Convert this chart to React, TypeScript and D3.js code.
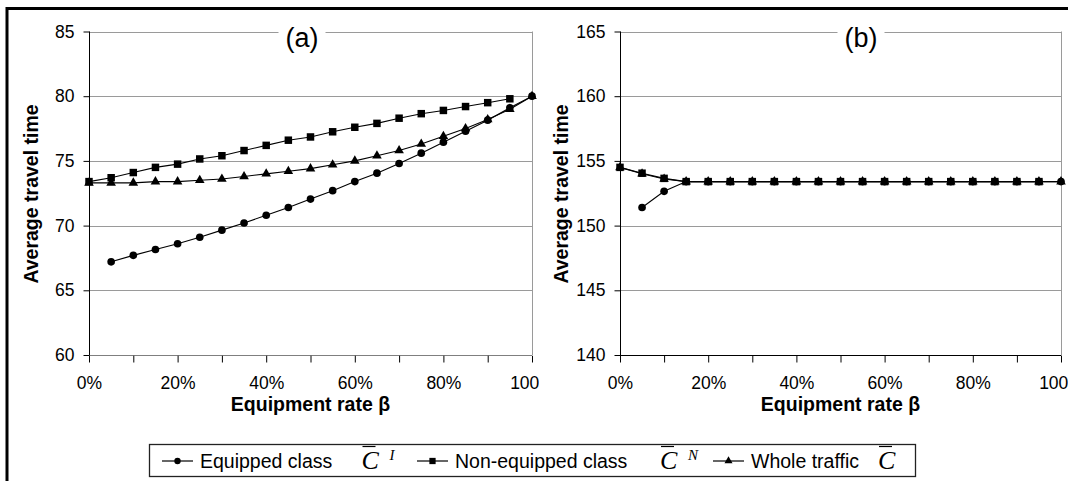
import React, { useEffect, useRef } from "react"
import * as d3 from "d3"

// equipment rate beta (x values, shared by both panels)
const rates = [0, 0.05, 0.1, 0.15, 0.2, 0.25, 0.3, 0.35, 0.4, 0.45, 0.5,
  0.55, 0.6, 0.65, 0.7, 0.75, 0.8, 0.85, 0.9, 0.95, 1]
const xTicks = [0, 0.1, 0.2, 0.3, 0.4, 0.5, 0.6, 0.7, 0.8, 0.9, 1]
const xLabels = ["0%", "", "20%", "", "40%", "", "60%", "", "80%", "", "100%"]

// panel (a)
const equippedA = [null, 67.2, 67.7, 68.15, 68.6, 69.1, 69.65, 70.2, 70.8, 71.4, 72.05,
  72.7, 73.4, 74.05, 74.8, 75.6, 76.45, 77.3, 78.15, 79.1, 80.0]
const nonEquippedA = [73.4, 73.7, 74.1, 74.5, 74.75, 75.15, 75.4, 75.8, 76.2, 76.6, 76.85,
  77.25, 77.6, 77.9, 78.3, 78.65, 78.9, 79.2, 79.5, 79.8, null]
const wholeA = [73.3, 73.3, 73.3, 73.4, 73.4, 73.5, 73.6, 73.8, 74.0, 74.2, 74.4,
  74.7, 75.0, 75.4, 75.8, 76.3, 76.9, 77.5, 78.2, 79.0, 80.0]
const yTicksA = [60, 65, 70, 75, 80, 85]

// panel (b)
const equippedB = [null, 151.4, 152.65, 153.4, 153.4, 153.4, 153.4, 153.4, 153.4, 153.4, 153.4,
  153.4, 153.4, 153.4, 153.4, 153.4, 153.4, 153.4, 153.4, 153.4, 153.4]
const nonEquippedB = [154.5, 154.05, 153.65, 153.4, 153.4, 153.4, 153.4, 153.4, 153.4, 153.4, 153.4,
  153.4, 153.4, 153.4, 153.4, 153.4, 153.4, 153.4, 153.4, 153.4, null]
const wholeB = [154.5, 154.0, 153.6, 153.4, 153.4, 153.4, 153.4, 153.4, 153.4, 153.4, 153.4,
  153.4, 153.4, 153.4, 153.4, 153.4, 153.4, 153.4, 153.4, 153.4, 153.4]
const yTicksB = [140, 145, 150, 155, 160, 165]

const seriesNames = ["Equipped class", "Non-equipped class", "Whole traffic"]
const seriesSups = ["I", "N", ""]

const SANS = "Liberation Sans, Arial, sans-serif"
const SERIF = "Liberation Serif, Times New Roman, serif"

const symbols = [d3.symbolCircle, d3.symbolSquare, d3.symbolTriangle]
const symbolSizes = [46, 56, 40]

function App() {
  const svgRef = useRef<SVGSVGElement>(null)

  useEffect(() => {
    const svg = d3.select(svgRef.current)
    svg.selectAll("*").remove()

    // outer frame (top + left edges only visible)
    svg.append("line").attr("x1", 7).attr("x2", 1068).attr("y1", 8.5).attr("y2", 8.5)
      .attr("stroke", "#000").attr("stroke-width", 3)
    svg.append("line").attr("x1", 7).attr("x2", 7).attr("y1", 7).attr("y2", 481)
      .attr("stroke", "#000").attr("stroke-width", 3)

    const defs = svg.append("defs")
    defs.append("clipPath").attr("id", "clipA")
      .append("rect").attr("x", 0).attr("y", 0).attr("width", 539).attr("height", 481)

    const panels = [
      { x0: 89, x1: 532, y0: 31.5, y1: 355, domain: [60, 85], ticks: yTicksA,
        series: [equippedA, nonEquippedA, wholeA], title: "(a)", titleX: 302, yTitleX: 31, clip: "clipA" },
      { x0: 620, x1: 1061, y0: 31.5, y1: 355, domain: [140, 165], ticks: yTicksB,
        series: [equippedB, nonEquippedB, wholeB], title: "(b)", titleX: 861, yTitleX: 561, clip: null },
    ]

    panels.forEach(p => {
      const x = d3.scaleLinear().domain([0, 1]).range([p.x0, p.x1])
      const y = d3.scaleLinear().domain(p.domain).range([p.y1, p.y0])
      const g = svg.append("g")

      // gridlines
      g.selectAll(".grid").data(p.ticks.slice(1)).enter().append("line")
        .attr("x1", p.x0).attr("x2", p.x1)
        .attr("y1", d => Math.round(y(d)) + 0.5).attr("y2", d => Math.round(y(d)) + 0.5)
        .attr("stroke", "#9a9a9a").attr("stroke-width", 1)
      // right border
      g.append("line").attr("x1", p.x1 + 0.5).attr("x2", p.x1 + 0.5)
        .attr("y1", y(p.domain[1])).attr("y2", p.y1)
        .attr("stroke", "#9a9a9a")

      // y axis
      const yAxis = g.append("g").attr("transform", `translate(${p.x0 + 0.5},0)`)
        .call(d3.axisLeft(y).tickValues(p.ticks).tickSize(6).tickPadding(9).tickFormat(d3.format("d")))
      yAxis.select(".domain").attr("stroke", "#000").attr("d", `M0,${y(p.domain[1])}V${p.y1}`)
      yAxis.selectAll("text").attr("font-family", SANS).attr("font-size", 17.5).attr("fill", "#000")

      // x axis
      const xAxis = g.append("g").attr("transform", `translate(0,${p.y1 + 0.5})`)
        .call(d3.axisBottom(x).tickValues(xTicks).tickSize(7).tickPadding(14)
          .tickFormat((d, i) => xLabels[i]))
      xAxis.select(".domain").attr("stroke", "#000").attr("d", `M${p.x0},0H${p.x1}`)
      xAxis.selectAll("text").attr("font-family", SANS).attr("font-size", 17.5).attr("fill", "#000")
      if (p.clip) xAxis.attr("clip-path", `url(#${p.clip})`)

      // axis titles
      g.append("text").attr("x", (p.x0 + p.x1) / 2).attr("y", 411)
        .attr("text-anchor", "middle").attr("font-family", SANS).attr("font-weight", "bold")
        .attr("font-size", 19.5).text("Equipment rate β")
      g.append("text").attr("transform", `translate(${p.yTitleX + 7},194) rotate(-90)`)
        .attr("text-anchor", "middle").attr("font-family", SANS).attr("font-weight", "bold")
        .attr("font-size", 19.5).text("Average travel time")

      // panel title sitting on the top border
      const tg = g.append("g")
      const tRect = tg.append("rect").attr("fill", "#fff")
      const tText = tg.append("text").attr("x", p.titleX).attr("y", 47)
        .attr("text-anchor", "middle").attr("font-family", SANS).attr("font-size", 27)
        .text(p.title)
      const bb = (tText.node() as SVGTextElement).getBBox()
      tRect.attr("x", bb.x - 7).attr("y", bb.y).attr("width", bb.width + 14).attr("height", bb.height)

      // series lines + markers
      p.series.forEach((vals, si) => {
        const line = d3.line<number | null>()
          .defined(d => d != null)
          .x((d, i) => x(rates[i]))
          .y(d => y(d as number))
        g.append("path").datum(vals).attr("d", line)
          .attr("fill", "none").attr("stroke", "#000").attr("stroke-width", 1.1)
        const sym = d3.symbol().type(symbols[si]).size(symbolSizes[si])
        g.selectAll(`.m${si}`).data(vals.map((v, i) => ({ v, r: rates[i] })).filter(d => d.v != null))
          .enter().append("path")
          .attr("transform", d => `translate(${x(d.r)},${y(d.v as number)})`)
          .attr("d", sym).attr("fill", "#000")
      })
    })

    // legend
    const lg = svg.append("g")
    lg.append("rect").attr("x", 149.5).attr("y", 444.5).attr("width", 766).attr("height", 32)
      .attr("fill", "#fff").attr("stroke", "#222").attr("stroke-width", 1.3)
    const lineStarts = [162, 417, 713]
    const cStarts = [361.5, 660, 878]
    seriesNames.forEach((name, i) => {
      const lx = lineStarts[i]
      lg.append("line").attr("x1", lx).attr("x2", lx + 31).attr("y1", 461).attr("y2", 461)
        .attr("stroke", "#000").attr("stroke-width", 1.2)
      lg.append("path").attr("transform", `translate(${lx + 15.5},461)`)
        .attr("d", d3.symbol().type(symbols[i]).size(symbolSizes[i] * 0.7)).attr("fill", "#000")
      lg.append("text").attr("x", lx + 38).attr("y", 467.5).attr("font-family", SANS)
        .attr("font-size", 19.5).text(name)
      const cx = cStarts[i]
      lg.append("text").attr("x", cx).attr("y", 469).attr("font-family", SERIF)
        .attr("font-style", "italic").attr("font-size", 26).text("C")
      lg.append("line").attr("x1", cx + 1).attr("x2", cx + 14).attr("y1", 446.5).attr("y2", 446.5)
        .attr("stroke", "#000").attr("stroke-width", 1.2)
      if (seriesSups[i]) {
        lg.append("text").attr("x", cx + 28).attr("y", 460).attr("font-family", SERIF)
          .attr("font-style", "italic").attr("font-size", 15).text(seriesSups[i])
      }
    })
  }, [])

  return (
    <svg ref={svgRef} width={1068} height={481}
      style={{ position: "absolute", left: 0, top: 0, background: "#fff" }} />
  )
}

export default App
